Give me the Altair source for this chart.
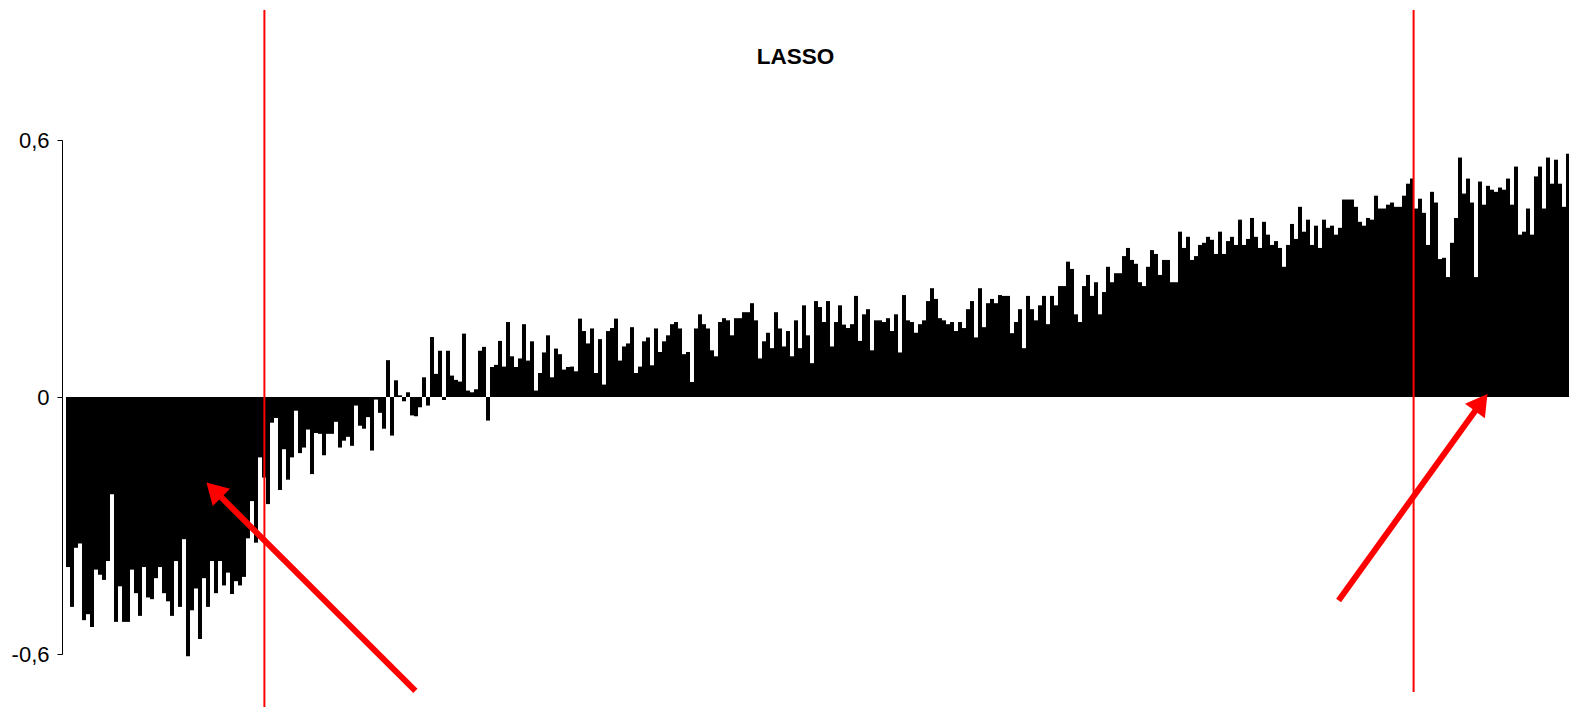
import altair as alt
import pandas as pd

# Bar values (left to right)
values = [
    -0.397, -0.490, -0.352, -0.342, -0.521, -0.507, -0.537, -0.403, -0.415, -0.427,
    -0.383, -0.227, -0.525, -0.442, -0.525, -0.525, -0.403, -0.458, -0.511, -0.397,
    -0.468, -0.472, -0.423, -0.397, -0.458, -0.477, -0.511, -0.383, -0.490, -0.332,
    -0.605, -0.498, -0.447, -0.565, -0.423, -0.490, -0.383, -0.458, -0.383, -0.440,
    -0.410, -0.460, -0.430, -0.440, -0.420, -0.330, -0.243, -0.340, -0.141, -0.188,
    -0.250, -0.060, -0.049, -0.217, -0.122, -0.193, -0.141, -0.032, -0.131, -0.118,
    -0.076, -0.180, -0.084, -0.086, -0.136, -0.086, -0.086, -0.058, -0.118, -0.102,
    -0.093, -0.114, -0.020, -0.067, -0.074, -0.047, -0.125, -0.006, -0.037, -0.074,
    0.086, -0.090, 0.039, 0.004, -0.010, 0.011, -0.043, -0.045, -0.024, 0.046,
    -0.020, 0.140, 0.054, 0.108, -0.007, 0.108, 0.050, 0.040, 0.036, 0.148,
    0.015, 0.011, 0.018, 0.108, 0.117, -0.055, 0.070, 0.075, 0.131, 0.071,
    0.175, 0.095, 0.070, 0.090, 0.170, 0.085, 0.130, 0.015, 0.056, 0.104,
    0.144, 0.046, 0.113, 0.100, 0.064, 0.070, 0.071, 0.060, 0.183, 0.154,
    0.125, 0.160, 0.056, 0.135, 0.029, 0.154, 0.161, 0.183, 0.085, 0.118,
    0.125, 0.163, 0.056, 0.071, 0.130, 0.139, 0.074, 0.160, 0.105, 0.130,
    0.144, 0.170, 0.175, 0.160, 0.100, 0.105, 0.035, 0.160, 0.193, 0.170,
    0.160, 0.109, 0.095, 0.175, 0.184, 0.179, 0.144, 0.184, 0.184, 0.198,
    0.198, 0.219, 0.179, 0.090, 0.130, 0.150, 0.114, 0.198, 0.160, 0.118,
    0.154, 0.095, 0.179, 0.114, 0.214, 0.144, 0.079, 0.224, 0.210, 0.175,
    0.224, 0.118, 0.175, 0.214, 0.169, 0.161, 0.170, 0.236, 0.131, 0.193,
    0.205, 0.109, 0.179, 0.179, 0.175, 0.184, 0.154, 0.193, 0.104, 0.238,
    0.179, 0.175, 0.150, 0.170, 0.179, 0.224, 0.254, 0.229, 0.184, 0.179,
    0.170, 0.175, 0.154, 0.175, 0.161, 0.205, 0.224, 0.139, 0.254, 0.163,
    0.219, 0.229, 0.219, 0.238, 0.236, 0.236, 0.149, 0.175, 0.205, 0.114,
    0.236, 0.205, 0.179, 0.214, 0.236, 0.170, 0.236, 0.214, 0.259, 0.259,
    0.316, 0.299, 0.193, 0.175, 0.259, 0.285, 0.236, 0.268, 0.193, 0.245,
    0.304, 0.268, 0.289, 0.289, 0.329, 0.348, 0.320, 0.311, 0.268, 0.259,
    0.304, 0.343, 0.334, 0.285, 0.320, 0.320, 0.268, 0.268, 0.386, 0.348,
    0.374, 0.320, 0.329, 0.355, 0.360, 0.374, 0.367, 0.334, 0.386, 0.334,
    0.364, 0.374, 0.355, 0.414, 0.355, 0.369, 0.418, 0.374, 0.348, 0.409,
    0.379, 0.355, 0.364, 0.348, 0.304, 0.355, 0.404, 0.369, 0.444, 0.386,
    0.414, 0.355, 0.400, 0.348, 0.414, 0.395, 0.400, 0.379, 0.395, 0.461,
    0.461, 0.461, 0.444, 0.409, 0.400, 0.418, 0.414, 0.470, 0.440, 0.440,
    0.449, 0.454, 0.444, 0.444, 0.470, 0.498, 0.510, 0.440, 0.463, 0.430,
    0.355, 0.479, 0.454, 0.322, 0.325, 0.280, 0.360, 0.418, 0.559, 0.475,
    0.510, 0.454, 0.280, 0.503, 0.449, 0.493, 0.484, 0.479, 0.489, 0.484,
    0.510, 0.449, 0.538, 0.379, 0.386, 0.440, 0.379, 0.515, 0.538, 0.440,
    0.559, 0.498, 0.554, 0.498, 0.444, 0.568, 0.388, 0.454,
]
index = list(range(len(values)))

# Red vertical marker lines (bar-index position, value range)
red_x = [49.6, 336.9]
red_top = [0.9035, 0.9035]
red_bottom = [-0.75, -0.689]

# Red arrows: tail and head (bar-index, value), head rotation in degrees
arrow_tail_x = [87.35, 318.15]
arrow_tail_y = [-0.686, -0.475]
arrow_head_x = [36.98, 353.8]
arrow_head_y = [-0.217, -0.0128]
arrow_angle = [315, 36]

y_ticks = [-0.6, 0, 0.6]

bars = pd.DataFrame({"i": index, "i2": [k + 1 for k in index], "v": values})
reds = pd.DataFrame({"x": red_x, "top": red_top, "bottom": red_bottom})
arrows = pd.DataFrame({
    "tx": arrow_tail_x, "ty": arrow_tail_y,
    "hx": arrow_head_x, "hy": arrow_head_y, "ang": arrow_angle,
})

xscale = alt.Scale(domain=[-1, 375.75], nice=False, zero=False)
yscale = alt.Scale(domain=[-0.6, 0.6], nice=False)

label_expr = ("datum.value == 0 ? '0' : (datum.value < 0 ? '-' : '') + "
              "replace(format(abs(datum.value), '.1f'), '.', ',')")

y_axis = alt.Axis(values=y_ticks, labelExpr=label_expr, grid=False,
                  labelFont="Liberation Sans", labelFontSize=22,
                  labelColor="black", tickColor="black", domainColor="black",
                  tickSize=5, labelPadding=8, domainWidth=1, tickWidth=1)

bar_layer = alt.Chart(bars).mark_rect(color="black").encode(
    x=alt.X("i:Q", scale=xscale, axis=None),
    x2="i2:Q",
    y=alt.Y("v:Q", scale=yscale, title=None, axis=y_axis),
    y2=alt.datum(0),
)

red_layer = alt.Chart(reds).mark_rule(color="#ff0000", strokeWidth=2).encode(
    x=alt.X("x:Q", scale=xscale, axis=None),
    y=alt.Y("top:Q", scale=yscale, title=None, axis=y_axis),
    y2="bottom:Q",
)

shaft_layer = alt.Chart(arrows).mark_rule(color="#ff0000", strokeWidth=6, strokeCap="butt").encode(
    x=alt.X("tx:Q", scale=xscale, axis=None),
    y=alt.Y("ty:Q", scale=yscale, title=None, axis=y_axis),
    x2="hx:Q",
    y2="hy:Q",
)

head_layer = alt.Chart(arrows).mark_point(
    shape="triangle-up", filled=True, size=600, color="#ff0000", opacity=1, strokeWidth=0
).encode(
    x=alt.X("hx:Q", scale=xscale, axis=None),
    y=alt.Y("hy:Q", scale=yscale, title=None, axis=y_axis),
    angle=alt.Angle("ang:Q", scale=None),
)

chart = alt.layer(bar_layer, red_layer, shaft_layer, head_layer).properties(
    width=1507,
    height=514,
    background="white",
    title=alt.TitleParams(text="LASSO", font="Liberation Sans", fontSize=22.5,
                          fontWeight="bold", color="black", anchor="middle",
                          frame="group", dx=-20, offset=-77, baseline="alphabetic"),
    autosize=alt.AutoSizeParams(type="none"),
    padding={"left": 54, "top": 132, "right": 0, "bottom": 53},
).configure_view(strokeWidth=0).configure_axis(grid=False)

chart.save("out.html", embed_options={"renderer": "svg", "actions": False})
